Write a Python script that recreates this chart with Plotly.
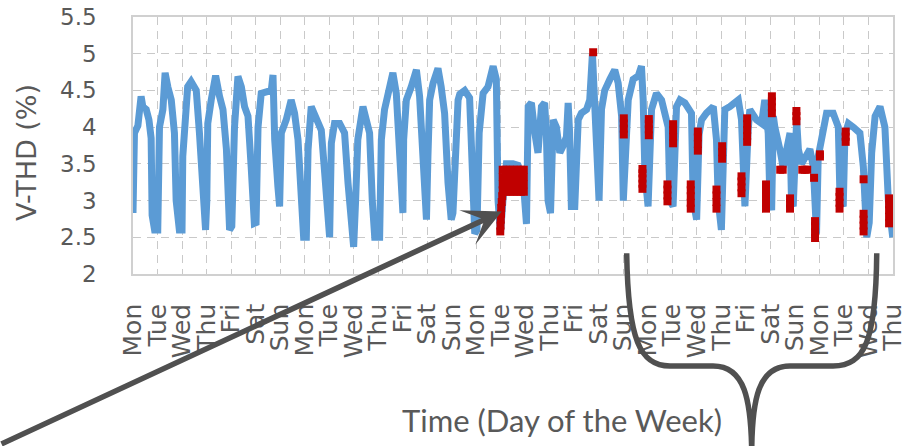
import plotly.graph_objects as go

# ---------------- data ----------------
DAY_LABELS = ["Mon", "Tue", "Wed", "Thu", "Fri", "Sat", "Sun",
              "Mon", "Tue", "Wed", "Thu", "Fri", "Sat", "Sun",
              "Mon", "Tue", "Wed", "Thu", "Fri", "Sat", "Sun",
              "Mon", "Tue", "Wed", "Thu", "Fri", "Sat", "Sun",
              "Mon", "Tue", "Wed", "Thu"]
DAY_TICKS = list(range(len(DAY_LABELS)))

# time in days since first Monday 00:00, V-THD in %
THD_TIME = [0.00, 0.06, 0.20, 0.33, 0.40, 0.54, 0.65, 0.74, 0.78, 0.88, 1.01,
            1.05, 1.08, 1.22, 1.31, 1.42, 1.56, 1.69, 1.76, 1.89, 2.00,
            2.03, 2.10, 2.23, 2.37, 2.58, 2.71, 2.85, 2.96, 3.01,
            3.05, 3.19, 3.37, 3.53, 3.67, 3.81, 3.88, 3.94, 4.03,
            4.14, 4.28, 4.42, 4.55, 4.69, 4.82, 4.95, 5.02,
            5.10, 5.23, 5.50, 5.64, 5.71, 5.78, 5.91, 5.98,
            6.05, 6.25, 6.45, 6.59, 6.73, 6.86, 6.96, 7.07,
            7.14, 7.27, 7.48, 7.68, 7.82, 7.95, 8.02,
            8.09, 8.22, 8.43, 8.63, 8.77, 8.90, 9.00,
            9.08, 9.17, 9.38, 9.52, 9.65, 9.76, 9.86, 10.06,
            10.13, 10.26, 10.40, 10.60, 10.74, 10.87, 11.01,
            11.04, 11.15, 11.35, 11.56, 11.69, 11.83, 11.97,
            12.03, 12.10, 12.24, 12.44, 12.57, 12.71, 12.85, 12.98,
            13.05, 13.15, 13.26, 13.33, 13.53, 13.73, 13.84, 13.94, 14.03,
            14.12, 14.28, 14.48, 14.69, 14.82, 14.89, 14.99,
            15.09, 15.23, 15.50, 15.71, 15.91, 16.05,
            16.12, 16.25, 16.39, 16.52, 16.66, 16.79, 16.86, 16.93, 17.03,
            17.14, 17.27, 17.41, 17.54, 17.68, 17.75, 17.81, 17.88, 18.02,
            18.16, 18.29, 18.50, 18.63, 18.74, 18.84, 18.90, 19.01,
            19.11, 19.24, 19.45, 19.65, 19.79, 19.93, 20.00,
            20.09, 20.20, 20.40, 20.61, 20.74, 20.81, 20.88, 21.01,
            21.15, 21.35, 21.56, 21.69, 21.83, 21.90, 22.03,
            22.17, 22.31, 22.51, 22.78, 22.85, 22.99,
            23.09, 23.19, 23.39, 23.67, 23.80, 23.87, 24.00,
            24.14, 24.35, 24.69, 24.82, 24.89, 24.96,
            25.09, 25.16, 25.43, 25.64, 25.77, 25.91, 25.98, 26.05,
            26.12, 26.18, 26.39, 26.52, 26.66, 26.80, 26.86, 26.93,
            27.07, 27.14, 27.27, 27.48, 27.61, 27.75, 27.82, 27.88, 27.95,
            28.16, 28.29, 28.56, 28.77, 28.84, 28.97,
            29.04, 29.18, 29.38, 29.65, 29.79, 29.86, 29.93,
            30.03, 30.13, 30.27, 30.47, 30.67, 30.81, 30.99]

THD_VALUE = [2.83, 3.92, 4.02, 4.42, 4.28, 4.24, 4.10, 3.85, 2.80, 2.60, 2.60,
             3.00, 4.00, 4.24, 4.74, 4.55, 4.37, 3.92, 3.00, 2.60, 2.60,
             3.60, 4.00, 4.55, 4.62, 4.50, 3.92, 3.00, 2.60, 3.00,
             4.05, 4.37, 4.70, 4.42, 4.24, 3.70, 2.78, 2.60, 2.65,
             4.00, 4.69, 4.55, 4.28, 4.15, 3.46, 2.69, 2.70,
             4.00, 4.46, 4.50, 4.50, 4.71, 3.83, 3.19, 2.92,
             3.92, 4.10, 4.37, 4.19, 3.83, 3.00, 2.50, 2.50,
             3.69, 4.28, 4.10, 3.96, 3.37, 2.50, 2.50,
             3.78, 4.05, 4.05, 3.92, 3.24, 2.60, 2.37,
             3.00, 3.83, 4.28, 4.10, 3.92, 3.00, 2.50, 2.50,
             3.83, 4.24, 4.46, 4.74, 4.46, 3.69, 2.83,
             3.83, 4.37, 4.55, 4.78, 4.42, 3.46, 2.74,
             3.60, 4.37, 4.60, 4.80, 4.55, 4.19, 3.24, 2.74,
             2.83, 3.90, 4.37, 4.45, 4.50, 4.40, 3.00, 2.55, 2.60,
             3.92, 4.46, 4.55, 4.83, 4.65, 3.00, 2.55,
             3.00, 3.50, 3.50, 3.48, 3.30, 2.68,
             4.28, 4.33, 3.92, 3.65, 4.28, 4.33, 3.92, 3.00, 2.83,
             4.10, 4.00, 3.65, 3.74, 3.87, 4.33, 3.92, 2.92, 2.92,
             4.10, 4.19, 4.24, 4.37, 5.00, 4.30, 3.46, 3.00,
             4.24, 4.50, 4.65, 4.78, 4.60, 4.15, 3.00,
             3.95, 4.37, 4.65, 4.70, 4.83, 4.37, 3.37, 2.92,
             4.24, 4.46, 4.37, 4.15, 4.00, 3.00, 2.92,
             4.28, 4.37, 4.33, 4.19, 3.00, 2.74,
             3.90, 4.10, 4.19, 4.28, 3.83, 3.00, 2.60,
             4.24, 4.28, 4.37, 4.10, 3.19, 2.92,
             3.95, 4.24, 4.10, 4.05, 4.37, 3.92, 3.00, 2.87,
             4.15, 4.00, 3.69, 3.45, 3.69, 3.92, 3.00, 2.92,
             4.10, 3.70, 3.50, 3.60, 3.70, 3.46, 2.80, 2.55, 3.60,
             3.92, 4.19, 4.19, 4.00, 3.00, 2.92,
             3.90, 4.05, 4.00, 3.92, 3.46, 2.80, 2.50,
             2.70, 3.65, 4.15, 4.28, 4.00, 3.00, 2.50]

# flagged (anomalous) samples
ANOMALY_TIME = [14.98, 14.99, 15.00, 15.01, 15.02, 15.04, 15.06,
                15.08, 15.08, 15.08, 15.08,
                15.22, 15.22, 15.22, 15.22,
                15.37, 15.37, 15.37, 15.37,
                15.52, 15.52, 15.52, 15.52,
                15.67, 15.67, 15.67, 15.67,
                15.82, 15.82, 15.82, 15.82,
                15.94, 15.94, 15.94, 15.94,
                20.02, 20.02, 20.02, 20.02,
                20.78, 20.78, 20.78, 20.78, 20.78,
                21.04, 21.04, 21.04, 21.04,
                21.80, 21.80, 21.80, 21.80,
                22.03, 22.03, 22.03, 22.03,
                22.75, 22.75, 22.75, 22.75, 22.75,
                23.04, 23.04, 23.04, 23.04,
                23.80, 23.80, 23.80, 23.80,
                24.03, 24.03, 24.03,
                24.82, 24.82, 24.82, 24.82,
                25.05, 25.05, 25.05, 25.05, 25.05,
                25.82, 25.82, 25.82, 25.82, 25.82,
                26.06, 26.06, 26.06, 26.06,
                26.40, 26.50,
                26.80, 26.80, 26.80,
                27.06, 27.06, 27.06,
                27.30, 27.40, 27.50,
                27.78,
                27.82, 27.82, 27.82, 27.82,
                28.02, 28.02,
                28.82, 28.82, 28.82, 28.82,
                29.07, 29.07, 29.07,
                29.80,
                29.80, 29.80, 29.80, 29.80,
                30.84, 30.84, 30.84, 30.84, 30.84,
                18.77]

ANOMALY_VALUE = [2.58, 2.66, 2.74, 2.82, 2.90, 2.98, 3.06,
                 3.14, 3.22, 3.32, 3.42,
                 3.12, 3.22, 3.32, 3.42,
                 3.12, 3.22, 3.32, 3.42,
                 3.12, 3.22, 3.32, 3.42,
                 3.12, 3.22, 3.32, 3.42,
                 3.12, 3.22, 3.32, 3.42,
                 3.12, 3.22, 3.32, 3.42,
                 3.90, 3.98, 4.05, 4.12,
                 3.16, 3.23, 3.30, 3.37, 3.43,
                 3.89, 3.97, 4.04, 4.11,
                 2.99, 3.07, 3.15, 3.22,
                 3.78, 3.87, 3.96, 4.04,
                 2.89, 2.97, 3.06, 3.14, 3.22,
                 3.68, 3.77, 3.86, 3.94,
                 2.89, 2.98, 3.07, 3.15,
                 3.57, 3.66, 3.74,
                 3.10, 3.18, 3.26, 3.33,
                 3.80, 3.88, 3.96, 4.04, 4.12,
                 2.89, 2.97, 3.06, 3.14, 3.22,
                 4.19, 4.27, 4.35, 4.42,
                 3.42, 3.42,
                 2.89, 2.96, 3.03,
                 4.08, 4.15, 4.22,
                 3.42, 3.42, 3.42,
                 3.31,
                 2.49, 2.57, 2.65, 2.72,
                 3.60, 3.63,
                 2.89, 2.97, 3.05, 3.12,
                 3.80, 3.87, 3.94,
                 3.29,
                 2.58, 2.66, 2.74, 2.82,
                 2.69, 2.78, 2.87, 2.95, 3.03,
                 5.02]

Y_TICKS = [2, 2.5, 3, 3.5, 4, 4.5, 5, 5.5]

# ---------------- style ----------------
W, H = 922, 446
ML, MR, MT, MB = 133, 29, 17, 172
TXT = "#595959"
GRID = "#c9c9c9"
DARK = "#505050"


def px2paper(px, py):
    return (px - ML) / (W - ML - MR), (H - MB - py) / (H - MT - MB)


fig = go.Figure()
fig.add_trace(go.Scatter(x=THD_TIME, y=THD_VALUE, mode="lines",
                         line=dict(color="#5B9BD5", width=7),
                         name="V-THD", showlegend=False))
fig.add_trace(go.Scatter(x=ANOMALY_TIME, y=ANOMALY_VALUE, mode="markers",
                         marker=dict(color="#C00000", size=8, symbol="square"),
                         name="Anomaly", showlegend=False))

fig.update_layout(
    width=W, height=H,
    margin=dict(l=ML, r=MR, t=MT, b=MB, pad=0, autoexpand=False),
    paper_bgcolor="white", plot_bgcolor="white",
    font=dict(family="DejaVu Sans", color=TXT),
    showlegend=False,
)
fig.update_xaxes(
    range=[0, len(DAY_LABELS) - 1], tickmode="array",
    tickvals=DAY_TICKS, ticktext=DAY_LABELS, tickangle=-90,
    tickfont=dict(size=25, color=TXT, family="DejaVu Sans"),
    ticks="", ticklabelstandoff=18, automargin=False,
    showgrid=True, gridcolor=GRID, griddash="8px,6px", gridwidth=1.3,
    showline=True, linecolor="#d0d0d0", linewidth=1.5, mirror=True,
    zeroline=False,
)
fig.update_yaxes(
    range=[2, 5.5], tickmode="array", tickvals=Y_TICKS,
    tickfont=dict(size=23, color=TXT, family="DejaVu Sans"),
    ticks="", ticklabelstandoff=30, automargin=False,
    showgrid=True, gridcolor=GRID, griddash="8px,6px", gridwidth=1.3,
    showline=True, linecolor="#d0d0d0", linewidth=1.5, mirror=True,
    zeroline=False,
)

# axis titles
tx, ty = px2paper(26, 153)
fig.add_annotation(text="V-THD (%)", xref="paper", yref="paper", x=tx, y=ty,
                   xanchor="center", yanchor="middle", textangle=-90,
                   showarrow=False, font=dict(size=27, color=TXT, family="DejaVu Sans"))
tx, ty = px2paper(562, 420)
fig.add_annotation(text="Time (Day of the Week)", xref="paper", yref="paper", x=tx, y=ty,
                   xanchor="center", yanchor="middle",
                   showarrow=False, font=dict(size=31, color=TXT, family="Lato"))

# arrow pointing to the first anomaly
fig.add_annotation(x=15.04, y=2.85, xref="x", yref="y", text="",
                   showarrow=True, arrowhead=3, arrowsize=1.15, arrowwidth=5.5,
                   arrowcolor=DARK, ax=-502, ay=233, standoff=0)

# brace
pts = [(626.7, 253.3), (628, 340), (640, 366), (670, 366), (713, 366),
       (745, 366), (751, 400), (751.7, 452), (752, 400), (758, 366),
       (790, 366), (833, 366), (865, 366), (876, 340), (876.7, 253.3)]
pp = [px2paper(a, b) for a, b in pts]
f = lambda p: f"{p[0]:.4f},{p[1]:.4f}"
path = (f"M {f(pp[0])} C {f(pp[1])} {f(pp[2])} {f(pp[3])} L {f(pp[4])} "
        f"C {f(pp[5])} {f(pp[6])} {f(pp[7])} C {f(pp[8])} {f(pp[9])} {f(pp[10])} "
        f"L {f(pp[11])} C {f(pp[12])} {f(pp[13])} {f(pp[14])}")
fig.add_shape(type="path", path=path, xref="paper", yref="paper",
              line=dict(color=DARK, width=5.5), layer="above")

fig.write_html("out.html", config={"displayModeBar": False},
               post_script="document.body.style.margin='0px';"
                           "document.body.style.overflow='hidden';")
